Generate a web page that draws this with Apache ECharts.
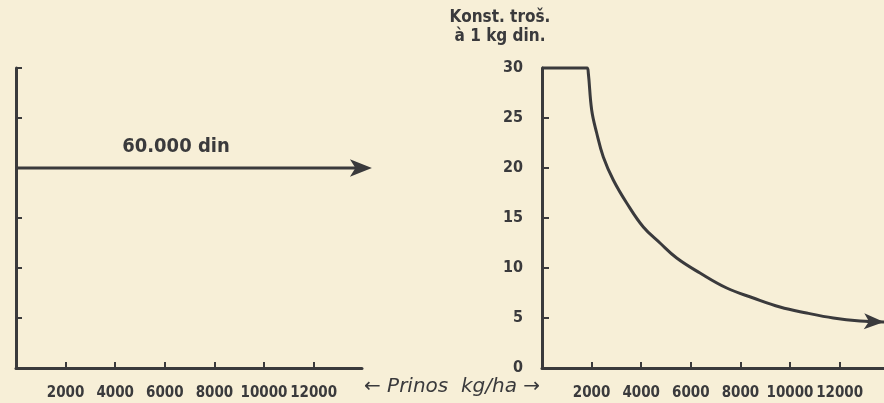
<!DOCTYPE html>
<html>
<head>
<meta charset="utf-8">
<script src="https://cdn.jsdelivr.net/npm/echarts@6/dist/echarts.min.js"></script>
<style>
  html, body { margin: 0; padding: 0; background: #f7efd7; }
  #chart { width: 884px; height: 403px; }
</style>
</head>
<body>
<div id="chart"></div>
<script>
// 左图：总固定费用（常数）
const fixedCostLine = [[0, 60000], [14350, 60000]];
const fixedCostText = "60.000 din";
// 右图：每 1 kg 的固定费用
const unitCostCurve = [
  [0, 30], [1815, 30], [1867, 29.5], [2003, 25.8], [2205, 23.5], [2472, 21.1],
  [2875, 18.8], [3415, 16.5], [4085, 14.1], [4758, 12.5], [5431, 11.0],
  [6371, 9.5], [7448, 8.0], [8520, 7.0], [9597, 6.1], [10673, 5.5],
  [11746, 5.0], [12823, 4.7], [13790, 4.6]
];
const yieldTicks = [2000, 4000, 6000, 8000, 10000, 12000];
const unitTicks = [0, 5, 10, 15, 20, 25, 30];
const rightAxisTitle = ["Konst. troš.", "à 1 kg din."];
const xAxisTitle = "\u2190 Prinos  kg/ha \u2192";

const ink = "#3a3a3c";
const narrow = "'DejaVu Sans Condensed', sans-serif";

const chart = echarts.init(document.getElementById("chart"));

// 最后一点画箭头
const arrowAtEnd = (len) => (value, params) => params.dataIndex === len - 1 ? "arrow" : "none";

const xAxisBase = {
  type: "value", min: 0, interval: 2000,
  axisLine: { lineStyle: { color: ink, width: 3 } },
  axisTick: { inside: true, length: 6, lineStyle: { color: ink, width: 2 } },
  splitLine: { show: false },
  axisLabel: {
    showMinLabel: false, showMaxLabel: false, margin: 18,
    color: ink, fontFamily: narrow, fontWeight: "bold", fontSize: 15,
    formatter: (v) => (yieldTicks.includes(v) ? String(v) : "")
  }
};

const option = {
  backgroundColor: "#f7efd7",
  animation: false,
  grid: [
    { left: 16, top: 68, width: 346, height: 300 },
    { left: 542, top: 68, right: 0, height: 300 }
  ],
  xAxis: [
    Object.assign({}, xAxisBase, { gridIndex: 0, max: 13950 }),
    Object.assign({}, xAxisBase, { gridIndex: 1, max: 13790 })
  ],
  yAxis: [
    {
      gridIndex: 0, type: "value", min: 0, max: 90000, interval: 15000,
      axisLine: { show: true, lineStyle: { color: ink, width: 3 } },
      axisTick: { show: true, inside: true, length: 6, lineStyle: { color: ink, width: 2 } },
      splitLine: { show: false },
      axisLabel: { show: false }
    },
    {
      gridIndex: 1, type: "value", min: 0, max: 30, interval: 5,
      axisLine: { show: true, lineStyle: { color: ink, width: 3 } },
      axisTick: { show: true, inside: true, length: 7, lineStyle: { color: ink, width: 2 } },
      splitLine: { show: false },
      axisLabel: {
        margin: 19, color: ink, fontFamily: narrow, fontWeight: "bold", fontSize: 16,
        formatter: (v) => (unitTicks.includes(v) ? String(v) : "")
      }
    }
  ],
  series: [
    {
      type: "line",
      xAxisIndex: 0, yAxisIndex: 0,
      data: fixedCostLine,
      clip: false,
      lineStyle: { color: ink, width: 3 },
      itemStyle: { color: ink },
      symbol: arrowAtEnd(fixedCostLine.length),
      symbolSize: [13, 22],
      symbolRotate: -90
    },
    {
      type: "line",
      xAxisIndex: 1, yAxisIndex: 1,
      data: unitCostCurve,
      clip: false,
      smooth: 0.4,
      lineStyle: { color: ink, width: 3 },
      itemStyle: { color: ink },
      symbol: arrowAtEnd(unitCostCurve.length),
      symbolSize: [12, 20],
      symbolRotate: -92
    }
  ],
  graphic: [
    {
      type: "text", x: 176, y: 137,
      style: {
        text: fixedCostText, fill: ink, align: "center", verticalAlign: "top",
        font: "bold 20px 'DejaVu Sans Condensed', sans-serif"
      }
    },
    {
      type: "text", x: 500, y: 9,
      style: {
        text: rightAxisTitle[0], fill: ink, align: "center", verticalAlign: "top",
        font: "bold 17px " + narrow
      }
    },
    {
      type: "text", x: 500, y: 28,
      style: {
        text: rightAxisTitle[1], fill: ink, align: "center", verticalAlign: "top",
        font: "bold 17px " + narrow
      }
    },
    {
      type: "text", x: 452, y: 377,
      style: {
        text: xAxisTitle, fill: ink, align: "center", verticalAlign: "top",
        font: "italic 20px 'DejaVu Sans', sans-serif"
      }
    }
  ]
};

chart.setOption(option);
</script>
</body>
</html>
